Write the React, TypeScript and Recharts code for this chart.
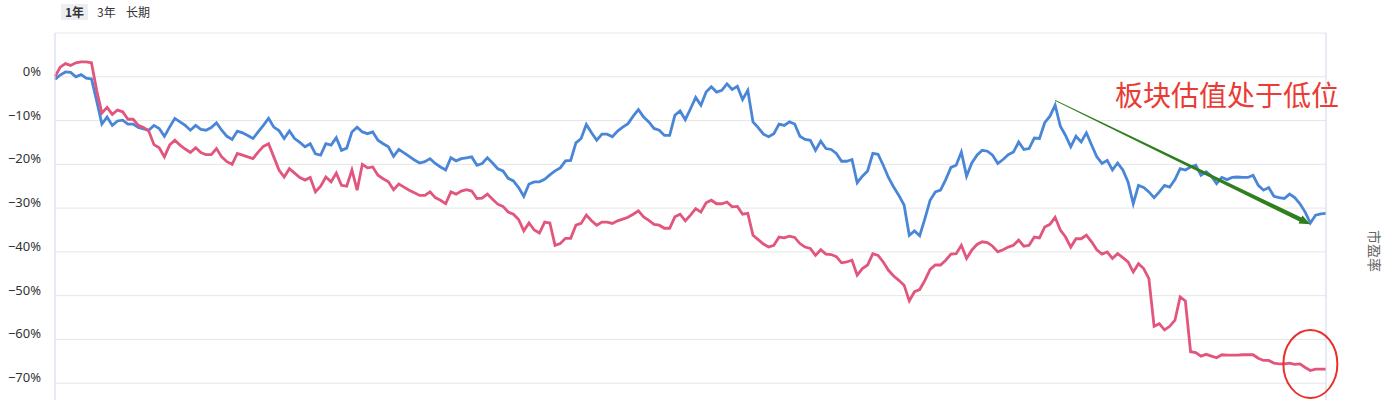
import React from "react"
import {
  LineChart,
  Line,
  XAxis,
  YAxis,
  CartesianGrid,
  ReferenceLine,
  ReferenceDot,
  Label,
} from "recharts"

// 行业 PE 分位（蓝）与 PE 相对变化（红），按交易日
const BLUE = [
  -0.6, 0.4, 1.1, 1.0, 0.0, 0.5, -0.3, -0.5, -5.5, -10.8,
  -9.2, -11.1, -10.1, -9.9, -10.8, -10.8, -11.6, -11.9, -12.2, -11.1,
  -11.8, -13.6, -11.5, -9.5, -10.3, -11.1, -12.2, -11.1, -12.0, -12.2,
  -11.6, -10.5, -12.2, -13.6, -14.3, -12.4, -12.8, -13.4, -14.1, -12.6,
  -11.1, -9.5, -11.5, -12.3, -14.1, -12.4, -14.1, -15.0, -16.0, -15.3,
  -17.6, -17.9, -15.3, -15.6, -13.9, -16.8, -16.3, -12.6, -11.5, -12.6,
  -13.0, -12.6, -14.5, -15.3, -16.0, -18.2, -16.6, -17.4, -18.2, -19.0,
  -19.7, -19.4, -18.7, -19.8, -20.6, -21.3, -18.5, -19.2, -18.7, -18.5,
  -18.3, -20.2, -19.8, -18.5, -19.7, -21.0, -21.5, -23.2, -23.8, -25.3,
  -27.3, -24.5, -24.0, -24.0, -23.4, -22.4, -21.5, -20.8, -19.2, -19.1,
  -15.1, -14.1, -10.9, -12.8, -14.5, -13.1, -13.1, -13.7, -12.4, -11.5,
  -10.7, -9.0, -7.5, -9.2, -10.3, -11.8, -12.2, -13.4, -13.4, -8.8,
  -7.8, -9.8, -7.3, -4.7, -6.5, -3.5, -2.3, -3.5, -3.1, -1.6,
  -2.9, -2.2, -5.2, -3.1, -10.3, -11.6, -13.1, -13.7, -13.0, -10.8,
  -11.1, -10.3, -10.8, -13.6, -14.3, -14.5, -16.8, -14.7, -16.4, -16.6,
  -17.5, -19.3, -19.3, -18.9, -24.2, -22.7, -21.5, -17.5, -17.7, -20.2,
  -23.0, -25.2, -27.1, -29.3, -36.2, -35.2, -36.3, -32.4, -28.2, -26.3,
  -25.9, -23.5, -20.7, -20.2, -17.2, -22.7, -19.7, -17.9, -16.8, -17.0,
  -17.9, -19.8, -18.9, -17.8, -17.2, -14.9, -16.6, -16.4, -14.0, -14.1,
  -10.5, -9.0, -6.5, -11.3, -13.4, -16.0, -13.6, -14.9, -12.8, -15.6,
  -18.3, -19.8, -19.1, -21.3, -19.7, -21.3, -24.0, -29.0, -24.8, -25.3,
  -26.3, -27.6, -26.3, -24.8, -25.2, -23.5, -21.0, -21.3, -20.6, -20.2,
  -22.5, -21.7, -22.7, -24.4, -23.0, -23.5, -23.0, -22.9, -23.0, -23.0,
  -22.5, -24.8, -25.9, -25.3, -27.3, -27.6, -27.8, -26.8, -27.6, -29.0,
  -30.9, -33.4, -31.6, -31.3, -31.2,
]

const PINK = [
  0.0, 2.2, 3.0, 2.6, 3.2, 3.4, 3.4, 3.2, -3.1, -8.3,
  -7.0, -8.6, -7.6, -8.0, -9.7, -9.7, -11.1, -11.6, -12.4, -15.5,
  -16.2, -18.3, -15.6, -14.5, -15.6, -16.5, -17.3, -16.2, -17.3, -17.8,
  -17.8, -16.4, -18.3, -19.4, -20.0, -17.5, -17.9, -18.3, -18.7, -17.2,
  -15.9, -15.3, -18.3, -21.3, -22.9, -21.0, -22.0, -23.0, -23.6, -23.0,
  -26.3, -25.0, -22.9, -24.0, -22.0, -24.8, -25.0, -21.3, -25.9, -20.0,
  -20.8, -20.6, -22.5, -23.3, -24.0, -25.8, -24.5, -25.2, -25.9, -26.5,
  -27.1, -27.1, -26.3, -27.6, -28.2, -29.0, -26.3, -26.8, -26.1, -25.8,
  -26.1, -27.8, -27.7, -26.8, -28.0, -29.1, -29.6, -30.9, -31.4, -32.6,
  -35.2, -33.4, -35.0, -35.7, -33.2, -33.4, -38.5, -38.1, -36.9, -36.9,
  -33.9, -33.5, -31.6, -32.9, -33.9, -33.2, -33.2, -33.5, -32.9, -32.5,
  -32.1, -31.4, -30.6, -32.0, -32.8, -33.7, -33.9, -34.6, -34.6, -32.0,
  -31.4, -32.9, -31.6, -30.1, -30.9, -28.8, -28.2, -29.0, -29.0, -28.6,
  -29.7, -29.6, -31.4, -31.2, -36.2, -37.2, -38.2, -38.9, -38.5, -36.6,
  -36.8, -36.4, -36.7, -38.1, -38.9, -39.2, -40.8, -39.5, -40.5, -40.6,
  -41.1, -42.5, -42.3, -41.9, -45.3, -43.8, -43.0, -40.4, -40.8, -42.3,
  -44.2, -45.5, -46.5, -47.6, -51.2, -49.1, -48.6, -46.5, -44.0, -43.0,
  -43.0, -41.9, -40.5, -40.4, -38.5, -41.5, -39.6, -38.3, -37.7, -37.9,
  -38.7, -40.0, -39.5, -38.9, -38.5, -37.3, -38.7, -38.5, -36.6, -36.8,
  -34.3, -33.7, -32.1, -35.0, -36.6, -38.9, -37.0, -37.0, -36.2, -37.7,
  -39.5, -40.5, -40.0, -41.5, -40.4, -41.3, -42.3, -44.6, -42.7, -43.8,
  -46.1, -57.0, -56.4, -57.8, -57.0, -55.6, -50.3, -51.2, -62.8, -63.0,
  -63.8, -63.4, -63.8, -64.2, -63.5, -63.6, -63.6, -63.6, -63.5, -63.5,
  -63.5, -64.3, -64.8, -64.8, -65.4, -65.6, -65.6, -65.4, -65.7, -65.6,
  -66.4, -67.1, -66.8, -66.8, -66.8,
]

const Y_TICKS = [10, 0, -10, -20, -30, -40, -50, -60, -70, -80]
const TABS = ["1年", "3年", "长期"]
const NOTE = "板块估值处于低位"
const AXIS_NAME = "市盈率"

// annotation anchors (index, value)
const ARROW_FROM = { i: 192, v: -5.4 }
const ARROW_TO = { i: 241, v: -33.7 }
const RING = { i: 241, v: -65.6 }

const data = BLUE.map((b, i) => ({ i, blue: b, pink: PINK[i] }))

const CJK = '"Noto Sans CJK SC", "Noto Sans", sans-serif'

// top (10%) and bottom (-80%) grid lines carry no label
const fmtPct = (v: number) =>
  v === 10 || v === -80 ? "" : (v < 0 ? "\u2212" + Math.abs(v) : String(v)) + "%"

function Arrow(props: any) {
  const { x1, y1, x2, y2 } = props
  const dx = x2 - x1
  const dy = y2 - y1
  const len = Math.hypot(dx, dy) || 1
  const ux = dx / len
  const uy = dy / len
  const nx = -uy
  const ny = ux
  const bx = x2 - ux * 11
  const by = y2 - uy * 11
  const pts = [
    [x1 + nx * 0.5, y1 + ny * 0.5],
    [bx + nx * 2.2, by + ny * 2.2],
    [bx + nx * 4.5, by + ny * 4.5],
    [x2, y2],
    [bx - nx * 4.5, by - ny * 4.5],
    [bx - nx * 2.2, by - ny * 2.2],
    [x1 - nx * 0.5, y1 - ny * 0.5],
  ]
  return <polygon points={pts.map((p) => p.join(",")).join(" ")} fill="#2f7f1f" />
}

export default function App() {
  return (
    <div
      style={{
        position: "fixed",
        left: 0,
        top: 0,
        width: 1393,
        height: 400,
        overflow: "hidden",
        background: "#fff",
      }}
    >
      {TABS.map((t, k) => (
        <span
          key={t}
          style={{
            position: "absolute",
            top: 4,
            left: [61, 93, 122][k],
            padding: "0 4px",
            height: 16,
            lineHeight: "16px",
            fontSize: 12,
            fontFamily: CJK,
            fontWeight: k === 0 ? 700 : 400,
            color: "#333",
            background: k === 0 ? "#eceef3" : "transparent",
          }}
        >
          {t}
        </span>
      ))}

      <LineChart
        width={1393}
        height={440}
        data={data}
        margin={{ top: 33, right: 0, bottom: 13, left: 0 }}
      >
        <CartesianGrid yAxisId="l" vertical={false} stroke="#e6e6e6" />
        <XAxis dataKey="i" hide />
        <YAxis
          yAxisId="l"
          width={55}
          domain={[-80, 10]}
          ticks={Y_TICKS}
          interval={0}
          tickLine={false}
          tickSize={6}
          tickMargin={8}
          axisLine={{ stroke: "#ccd6eb" }}
          tick={(p: any) => (
            <text
              x={p.x}
              y={p.y - 6}
              textAnchor="end"
              dominantBaseline="central"
              fill="#333"
              fontSize={13}
              fontFamily='"Noto Sans", sans-serif'
            >
              {fmtPct(p.payload.value)}
            </text>
          )}
        />
        <YAxis
          yAxisId="r"
          orientation="right"
          width={67}
          domain={[0, 1]}
          tick={false}
          tickLine={false}
          axisLine={{ stroke: "#ccd6eb" }}
        >
          <Label
            content={(p: any) => {
              const vb = p.viewBox || { x: 1326, y: 33, width: 67, height: 394 }
              const cx = vb.x + 48.5
              const cy = vb.y + vb.height / 2 + 21
              return (
                <text
                  x={cx}
                  y={cy}
                  transform={`rotate(90 ${cx} ${cy})`}
                  textAnchor="middle"
                  dominantBaseline="central"
                  fill="#666"
                  fontSize={14}
                  fontFamily={CJK}
                >
                  {AXIS_NAME}
                </text>
              )
            }}
          />
        </YAxis>
        <Line
          yAxisId="l"
          type="linear"
          dataKey="blue"
          stroke="#4a86d8"
          strokeWidth={2.8}
          dot={false}
          isAnimationActive={false}
        />
        <Line
          yAxisId="l"
          type="linear"
          dataKey="pink"
          stroke="#e2557c"
          strokeWidth={2.8}
          dot={false}
          isAnimationActive={false}
        />
        <ReferenceLine
          yAxisId="l"
          segment={[
            { x: ARROW_FROM.i, y: ARROW_FROM.v },
            { x: ARROW_TO.i, y: ARROW_TO.v },
          ]}
          shape={(p: any) => <Arrow {...p} />}
        />
        <ReferenceDot
          yAxisId="l"
          x={RING.i}
          y={RING.v}
          shape={(p: any) => (
            <ellipse
              cx={p.cx}
              cy={p.cy}
              rx={27}
              ry={34}
              fill="none"
              stroke="#e8302c"
              strokeWidth={2}
            />
          )}
        />
      </LineChart>

      <div
        style={{
          position: "absolute",
          left: 1115,
          top: 80,
          fontSize: 28,
          lineHeight: "28px",
          color: "#ea3b35",
          fontFamily: CJK,
          whiteSpace: "nowrap",
        }}
      >
        {NOTE}
      </div>
    </div>
  )
}
